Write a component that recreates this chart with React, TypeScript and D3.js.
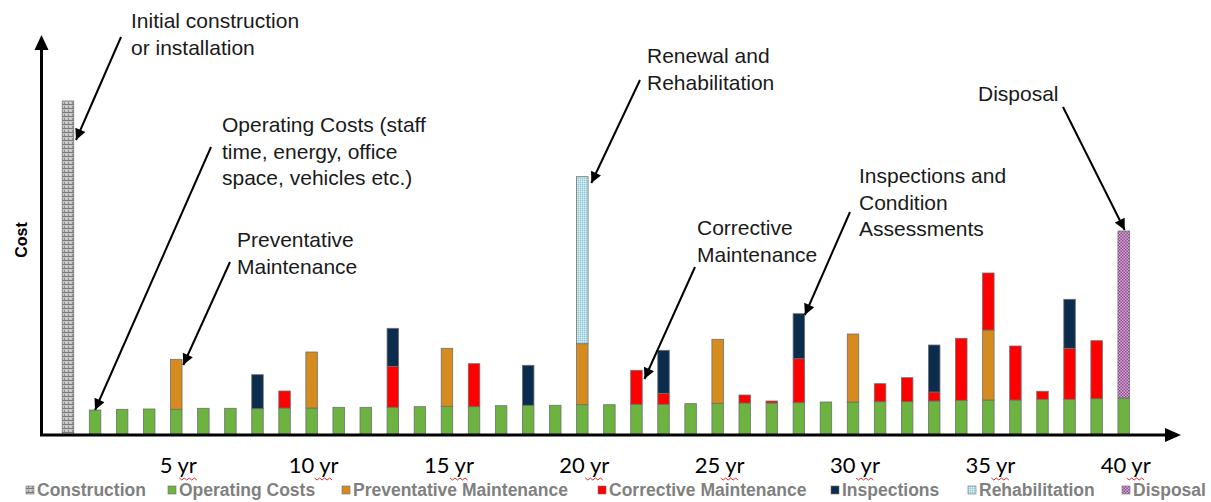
import * as d3 from "d3";
import React from "react";

// year 1 = construction, years 2..40 = life of the asset
const years = d3.range(1, 41);

const construction = [334, 0, 0, 0, 0, 0, 0, 0, 0, 0, 0, 0, 0, 0, 0, 0, 0, 0, 0, 0, 0, 0, 0, 0, 0, 0, 0, 0, 0, 0, 0, 0, 0, 0, 0, 0, 0, 0, 0, 0];
const operatingCosts = [0, 25, 25.7, 26, 25.7, 26.7, 26.7, 26.3, 27, 27, 27.7, 27.7, 27.7, 28.3, 28.7, 28.3, 29.3, 29.7, 29.7, 30.3, 30.3, 30.7, 30.7, 31.3, 31.7, 32, 32, 32.3, 33, 33, 33.3, 33.3, 34, 34.7, 35, 35, 35.7, 35.7, 36.3, 37];
const preventative = [0, 0, 0, 0, 50, 0, 0, 0, 0, 56, 0, 0, 0, 0, 58, 0, 0, 0, 0, 61, 0, 0, 0, 0, 64, 0, 0, 0, 0, 68, 0, 0, 0, 0, 70, 0, 0, 0, 0, 0];
const corrective = [0, 0, 0, 0, 0, 0, 0, 0, 17, 0, 0, 0, 41, 0, 0, 43, 0, 0, 0, 0, 0, 34, 11, 0, 0, 8, 2, 44, 0, 0, 18, 24, 9, 62, 57, 54, 8, 51, 58, 0];
const inspections = [0, 0, 0, 0, 0, 0, 0, 34, 0, 0, 0, 0, 38, 0, 0, 0, 0, 40, 0, 0, 0, 0, 43, 0, 0, 0, 0, 45, 0, 0, 0, 0, 47, 0, 0, 0, 0, 49, 0, 0];
const rehabilitation = [0, 0, 0, 0, 0, 0, 0, 0, 0, 0, 0, 0, 0, 0, 0, 0, 0, 0, 0, 167, 0, 0, 0, 0, 0, 0, 0, 0, 0, 0, 0, 0, 0, 0, 0, 0, 0, 0, 0, 0];
const disposal = [0, 0, 0, 0, 0, 0, 0, 0, 0, 0, 0, 0, 0, 0, 0, 0, 0, 0, 0, 0, 0, 0, 0, 0, 0, 0, 0, 0, 0, 0, 0, 0, 0, 0, 0, 0, 0, 0, 0, 167];

const seriesNames = ["Construction", "Operating Costs", "Preventative Maintenance", "Corrective Maintenance", "Inspections", "Rehabilitation", "Disposal"];
const seriesValues = [construction, operatingCosts, preventative, corrective, inspections, rehabilitation, disposal];
const tickYears = [5, 10, 15, 20, 25, 30, 35, 40];

// callouts: text lines + the bar they point at [year, cost]
const callouts = [
  { lines: ["Initial construction", "or installation"], year: 1, cost: 295 },
  { lines: ["Operating Costs (staff", "time, energy, office", "space, vehicles etc.)"], year: 2, cost: 25 },
  { lines: ["Preventative", "Maintenance"], year: 5, cost: 70 },
  { lines: ["Renewal and", "Rehabilitation"], year: 20, cost: 252 },
  { lines: ["Corrective", "Maintenance"], year: 22, cost: 56 },
  { lines: ["Inspections and", "Condition", "Assessments"], year: 28, cost: 120 },
  { lines: ["Disposal"], year: 40, cost: 205 },
];

const W = 1211;
const H = 502;
const fills = ["url(#pConstr)", "#6db33f", "#d68b1e", "#ff0000", "#0b2c4d", "url(#pRehab)", "url(#pDisp)"];
// layout of callouts (text anchor, arrow start, arrow tip offset)
const calloutLayout = [
  { tx: 131, ty: 28, sx: 121, sy: 37, dx: 8 },
  { tx: 222, ty: 132, sx: 211, sy: 147, dx: 0 },
  { tx: 237, ty: 247, sx: 230, sy: 262, dx: 7 },
  { tx: 647, ty: 63, sx: 640, sy: 80, dx: 9 },
  { tx: 697, ty: 235, sx: 695, sy: 267, dx: 8 },
  { tx: 859, ty: 183, sx: 850, sy: 212, dx: 6 },
  { tx: 978, ty: 101, sx: 1063, sy: 107, dx: 1 },
];
const legendX = [26, 168, 342, 598, 831, 968, 1122];

export default function App() {
  const x = d3.scalePoint<number>().domain(years).range([68, 1123.7]);
  const y = d3.scaleLinear().domain([0, 400]).range([435, 35]);
  const barW = 11.5;

  const table = years.map((yr, i) => {
    const row: any = { year: yr };
    seriesNames.forEach((n, k) => (row[n] = seriesValues[k][i]));
    return row;
  });
  const stacked = d3.stack().keys(seriesNames)(table);

  const x0 = 41.5;
  const y0 = y(0);

  return (
    <svg width={W} height={H} style={{ position: "absolute", left: 0, top: 0, background: "#fff" }}>
      <defs>
        <pattern id="pConstr" width="4" height="4" patternUnits="userSpaceOnUse">
          <rect width="4" height="4" fill="#c4c4c4" />
          <rect y="0" width="4" height="1" fill="#7a7a7a" />
          <rect x="0" y="2" width="1" height="2" fill="#8e8e8e" />
          <rect x="2" y="2" width="1" height="1" fill="#e6e6e6" />
        </pattern>
        <pattern id="pRehab" width="2" height="2" patternUnits="userSpaceOnUse">
          <rect width="2" height="2" fill="#b9e0ea" />
          <rect width="1" height="1" fill="#8fc6d6" />
          <rect x="1" y="1" width="1" height="1" fill="#d6eef4" />
        </pattern>
        <pattern id="pDisp" width="3" height="3" patternUnits="userSpaceOnUse">
          <rect width="3" height="3" fill="#d8a8d8" />
          <rect width="1.5" height="1.5" fill="#8c4a8c" />
          <rect x="1.5" y="1.5" width="1.5" height="1.5" fill="#8c4a8c" />
        </pattern>
        <marker id="ah" viewBox="0 0 10 10" refX="10" refY="5" markerWidth="13" markerHeight="11" markerUnits="userSpaceOnUse" orient="auto">
          <path d="M0,0 L10,5 L0,10 z" fill="#000" />
        </marker>
      </defs>

      {/* bars */}
      {stacked.map((s, k) => (
        <g key={s.key} fill={fills[k]} stroke="#6f6f6f" strokeWidth={0.8}>
          {s.map((d, i) =>
            d[1] - d[0] > 0 ? (
              <rect key={i} x={x(years[i])! - barW / 2} y={y(d[1])} width={barW} height={y(d[0]) - y(d[1])} />
            ) : null
          )}
        </g>
      ))}

      {/* axes with arrowheads */}
      <line x1={x0} y1={y0} x2={x0} y2={48} stroke="#000" strokeWidth={3} />
      <path d={`M${x0},35 L${x0 - 7},50 L${x0 + 7},50 Z`} fill="#000" />
      <line x1={x0 - 1.5} y1={y0} x2={1167} y2={y0} stroke="#000" strokeWidth={3} />
      <path d={`M1181,${y0} L1165,${y0 - 7} L1165,${y0 + 7} Z`} fill="#000" />
      <text transform="translate(27,240) rotate(-90)" textAnchor="middle" fontFamily="Liberation Sans, Arial, sans-serif" fontWeight="bold" fontSize={16} fill="#000">
        Cost
      </text>

      {/* year labels */}
      {tickYears.map((t) => (
        <g key={t}>
          <text x={x(t)! + 2} y={473} textAnchor="middle" fontFamily="Lato, sans-serif" fontSize={22} fill="#000">
            {`${t} yr`}
          </text>
          <path
            d={d3.range(0, 8).map((j) => `${j === 0 ? "M" : "L"}${x(t)! + 3 + j * 2.5},${478 + (j % 2) * 2}`).join(" ")}
            fill="none"
            stroke="#e03030"
            strokeWidth={1}
          />
        </g>
      ))}

      {/* callouts */}
      {callouts.map((c, i) => {
        const L = calloutLayout[i];
        return (
          <g key={i}>
            {c.lines.map((ln, j) => (
              <text key={j} x={L.tx} y={L.ty + j * 26.7} fontFamily="Liberation Sans, Arial, sans-serif" fontSize={21} fill="#1a1a1a">
                {ln}
              </text>
            ))}
            <line x1={L.sx} y1={L.sy} x2={x(c.year)! + L.dx} y2={y(c.cost)} stroke="#000" strokeWidth={2} markerEnd="url(#ah)" />
          </g>
        );
      })}

      {/* legend */}
      {seriesNames.map((n, k) => (
        <g key={n}>
          <rect x={legendX[k]} y={486} width={8} height={8} fill={fills[k]} stroke="#6f6f6f" strokeWidth={0.6} />
          <text x={legendX[k] + 11} y={496} fontFamily="Liberation Sans, Arial, sans-serif" fontWeight="bold" fontSize={17.5} fill="#808080">
            {n}
          </text>
        </g>
      ))}
    </svg>
  );
}
